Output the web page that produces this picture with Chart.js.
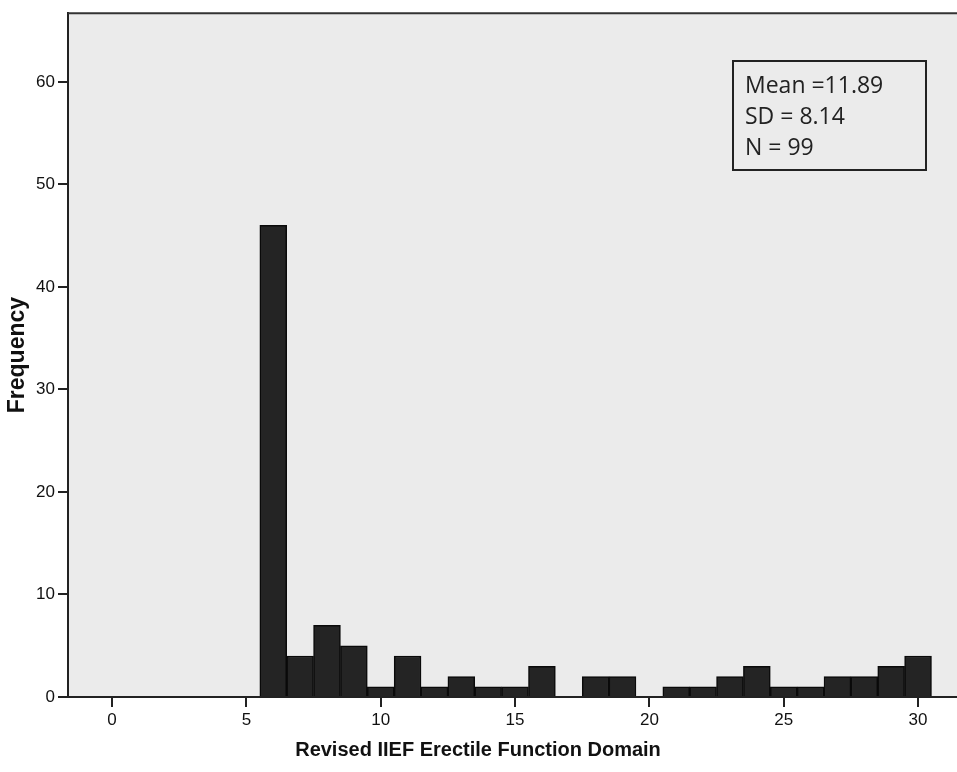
<!DOCTYPE html>
<html>
<head>
<meta charset="utf-8">
<script src="https://cdn.jsdelivr.net/npm/chart.js@4"></script>
<style>
  html, body { margin: 0; padding: 0; background: #fff; }
  #wrap { width: 957px; height: 772px; }
</style>
</head>
<body>
<div id="wrap"><canvas id="chart-hist"></canvas></div>
<script>
// scores 6..30, frequency per score
const scores = [6, 7, 8, 9, 10, 11, 12, 13, 14, 15, 16, 17, 18, 19, 20, 21, 22, 23, 24, 25, 26, 27, 28, 29, 30];
const freq = [46, 4, 7, 5, 1, 4, 1, 2, 1, 1, 3, 0, 2, 2, 0, 1, 1, 2, 3, 1, 1, 2, 2, 3, 4];
const xTicks = [0, 5, 10, 15, 20, 25, 30];
const yTicks = [0, 10, 20, 30, 40, 50, 60];
const statLines = ["Mean =11.89", "SD = 8.14", "N = 99"];
const xTitle = "Revised IIEF Erectile Function Domain";

const frame = {
    id: "frame",
    beforeDraw(chart) {
        const { ctx, chartArea: a } = chart;
        ctx.save();
        ctx.fillStyle = "#fff";
        ctx.fillRect(0, 0, chart.width, chart.height);
        ctx.fillStyle = "#ebebeb";
        ctx.fillRect(a.left, a.top, a.right - a.left, a.bottom - a.top);
        ctx.restore();
    },
    afterDraw(chart) {
        const { ctx, chartArea: a } = chart;
        ctx.save();
        // top border
        ctx.strokeStyle = "#333";
        ctx.lineWidth = 2;
        ctx.beginPath();
        ctx.moveTo(a.left, a.top);
        ctx.lineTo(a.right, a.top);
        ctx.stroke();
        // stats box
        const bx = 733, by = 61, bw = 193, bh = 109;
        ctx.fillStyle = "#ebebeb";
        ctx.fillRect(bx, by, bw, bh);
        ctx.strokeStyle = "#222";
        ctx.lineWidth = 2;
        ctx.strokeRect(bx, by, bw, bh);
        ctx.fillStyle = "#222";
        ctx.font = "23px 'Open Sans', sans-serif";
        ctx.textBaseline = "alphabetic";
        statLines.forEach((t, i) => ctx.fillText(t, bx + 12, by + 32 + i * 31));
        // x axis title (SPSS centres it on the whole figure, not the plot)
        ctx.fillStyle = "#111";
        ctx.font = "bold 20px 'Liberation Sans', Arial";
        ctx.textAlign = "center";
        ctx.textBaseline = "middle";
        ctx.fillText(xTitle, 478, 750);
        ctx.restore();
    },
};

const ctx = document.getElementById("chart-hist").getContext("2d");
new Chart(ctx, {
    type: "bar",
    data: {
        datasets: [
            {
                label: "Frequency",
                data: scores.map((s, i) => ({ x: s, y: freq[i] })),
                backgroundColor: "#242424",
                borderColor: "#0a0a0a",
                borderWidth: 1.5,
                borderSkipped: "bottom",
                barPercentage: 1,
                categoryPercentage: 1,
            },
        ],
    },
    options: {
        responsive: true,
        maintainAspectRatio: false,
        animation: false,
        layout: { padding: { left: 4, top: 7, right: 0, bottom: 6 } },
        plugins: {
            legend: { display: false },
            tooltip: { enabled: false },
        },
        scales: {
            x: {
                type: "linear",
                offset: false,
                min: -1.64,
                max: 31.45,
                afterBuildTicks: (s) => { s.ticks = xTicks.map((v) => ({ value: v })); },
                afterFit: (s) => { s.height = 69; },
                ticks: {
                    color: "#111",
                    padding: 3,
                    font: { family: "'Liberation Sans', Arial", size: 17 },
                },
                grid: {
                    offset: false,
                    drawOnChartArea: false,
                    drawTicks: true,
                    tickLength: 10,
                    color: "#222",
                    lineWidth: 2,
                },
                border: { display: true, color: "#222", width: 2 },
                title: { display: false },
            },
            y: {
                min: 0,
                max: 66.7,
                afterBuildTicks: (s) => { s.ticks = yTicks.map((v) => ({ value: v })); },
                afterFit: (s) => { s.width = 64; },
                ticks: {
                    color: "#111",
                    padding: 3,
                    font: { family: "'Liberation Sans', Arial", size: 17 },
                },
                grid: {
                    drawOnChartArea: false,
                    drawTicks: true,
                    tickLength: 10,
                    color: "#222",
                    lineWidth: 2,
                },
                border: { display: true, color: "#222", width: 2 },
                title: {
                    display: true,
                    text: "Frequency",
                    color: "#111",
                    padding: { top: 0, bottom: 0 },
                    font: { family: "'Liberation Sans', Arial", size: 23, weight: "bold" },
                },
            },
        },
    },
    plugins: [frame],
});
</script>
</body>
</html>
